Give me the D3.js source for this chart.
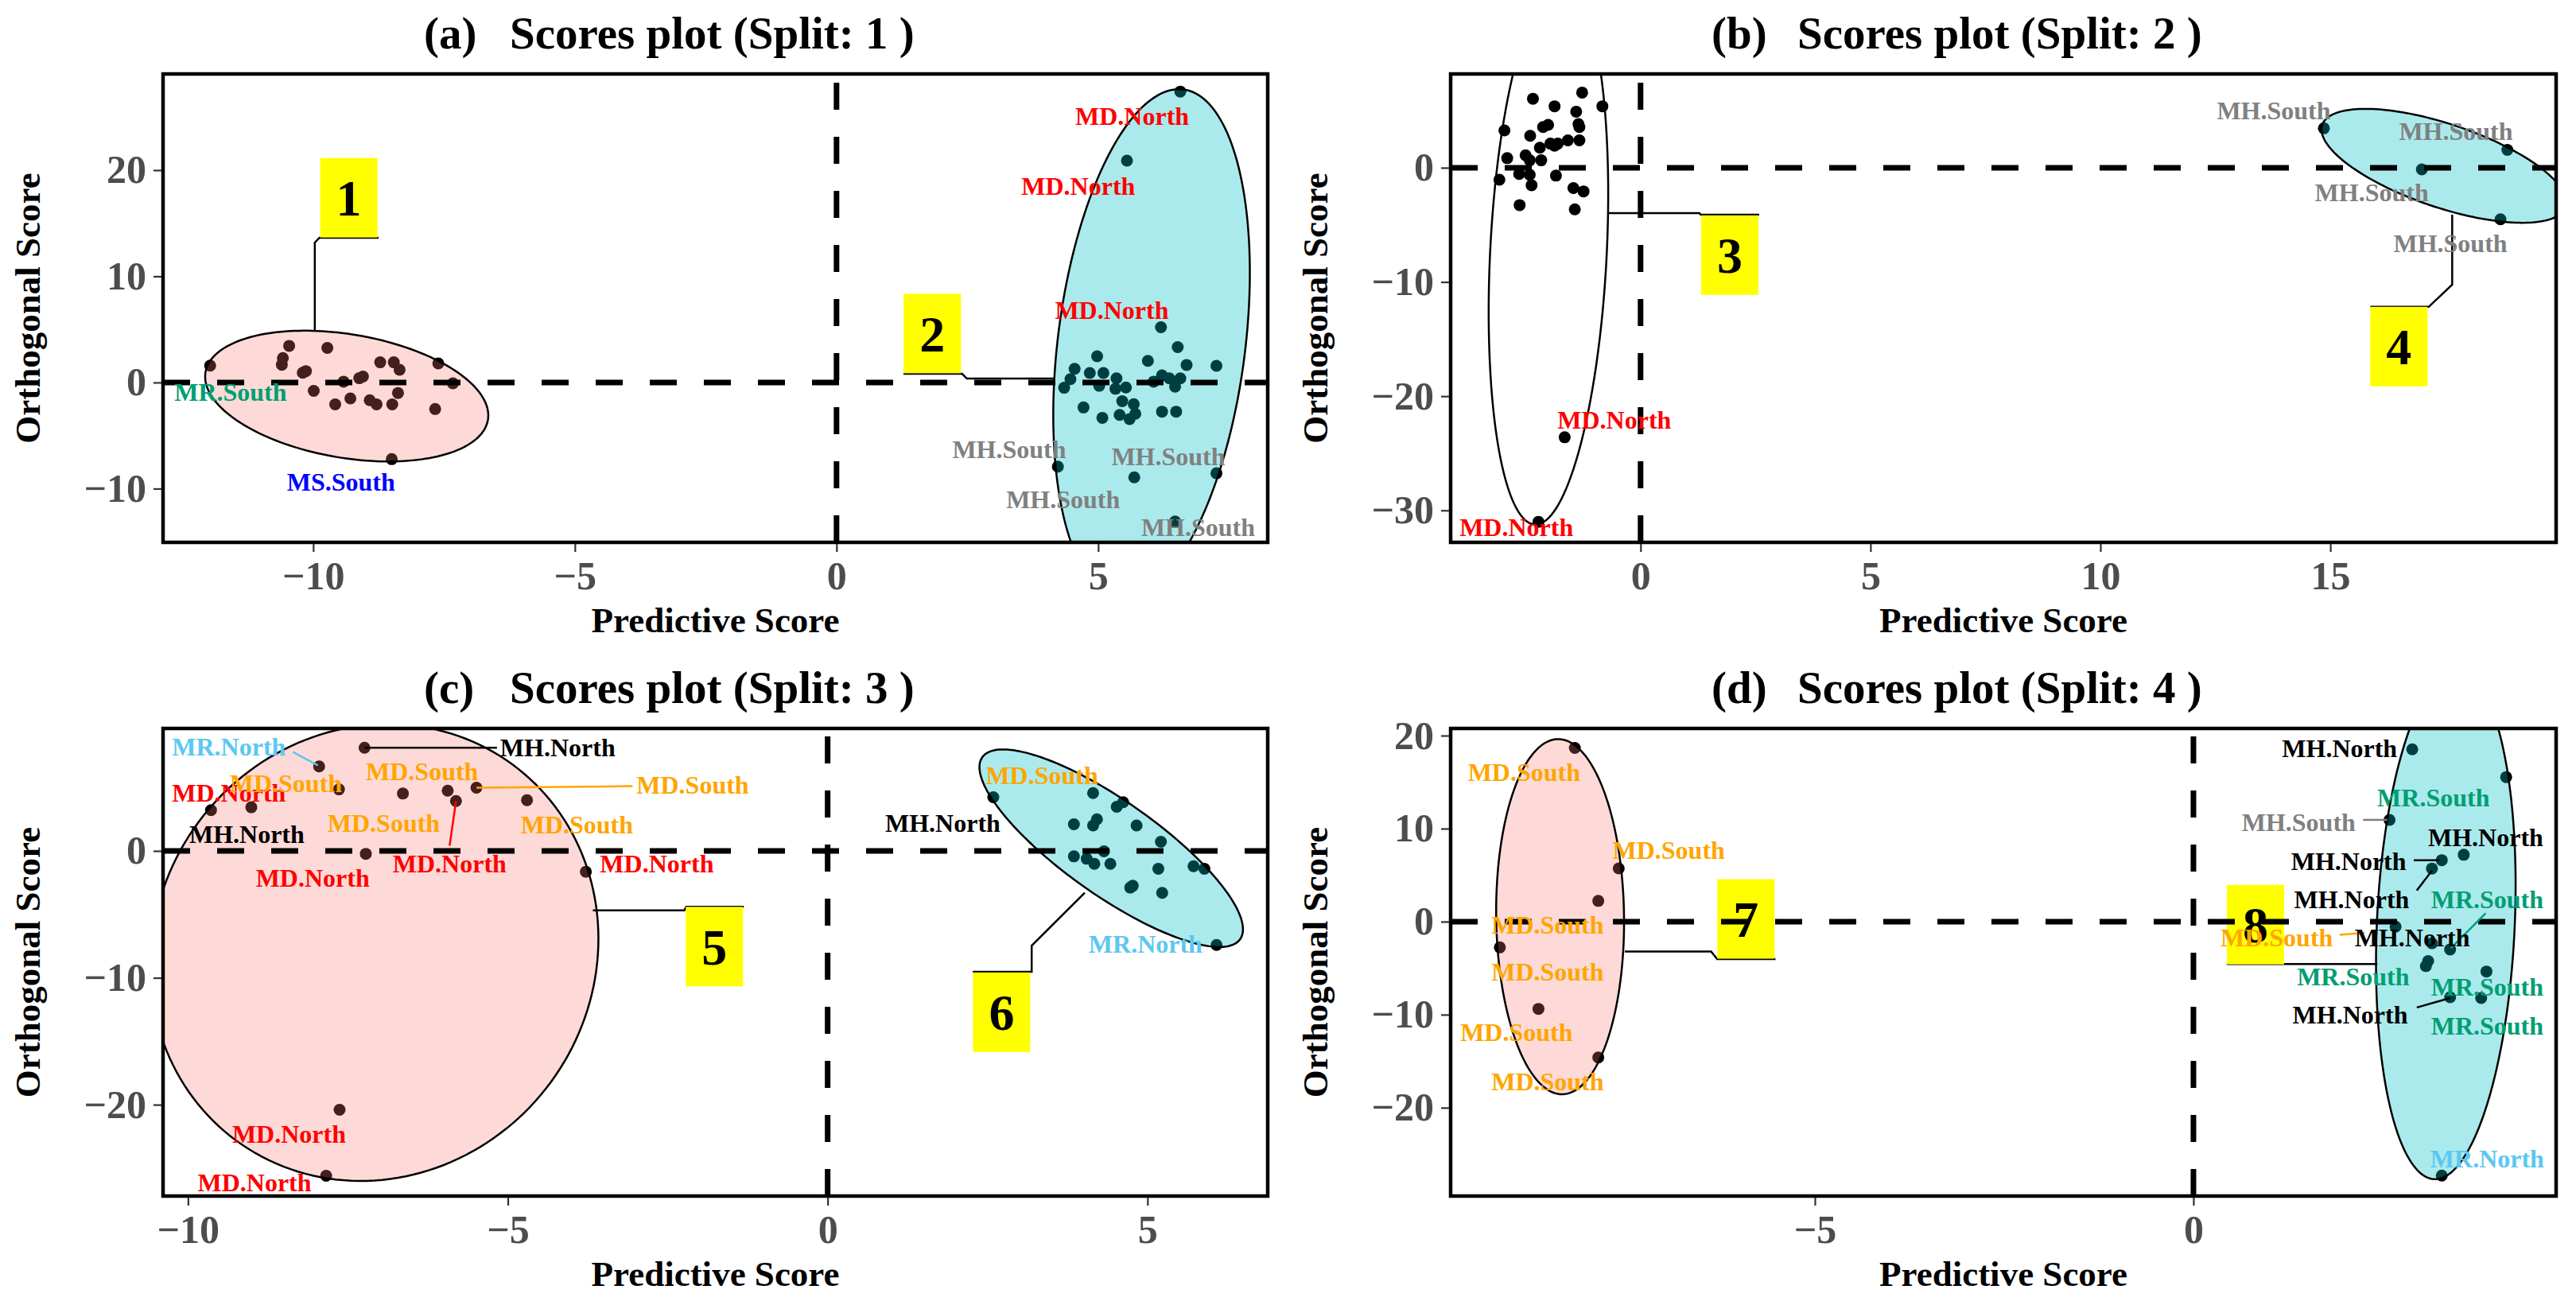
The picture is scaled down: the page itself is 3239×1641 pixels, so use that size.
<!DOCTYPE html>
<html><head><meta charset="utf-8">
<script src="https://cdn.jsdelivr.net/npm/d3@7"></script>
<style>
body{margin:0;background:#fff}
svg{display:block}
text{font-family:"Liberation Serif","Times New Roman",serif;font-weight:bold}
</style>
</head><body>
<svg id="chart" width="3239" height="1641"></svg>
<script>
// ================= DATA =================
// Split 1 (panel a)
const split1Group1 = [[-11.97,1.59],[-10.46,3.45],[-10.58,2.3],[-10.60,1.67],[-9.73,3.25],[-10.2,0.91],[-10.14,1.07],[-9.99,-0.79],[-9.42,0.08],[-9.58,-2.06],[-9.29,-1.5],[-9.12,0.4],[-9.05,0.56],[-8.72,1.9],[-8.46,1.9],[-8.35,1.19],[-8.38,-0.99],[-8.92,-1.67],[-8.79,-2.06],[-8.49,-2.06],[-7.61,1.79],[-7.33,-0.08],[-7.67,-2.5],[-8.5,-7.22]];
const split1Group2 = [[6.57,27.4],[5.55,20.9],[6.2,5.2],[4.98,2.47],[6.52,3.33],[5.95,2.04],[6.69,1.65],[7.26,1.57],[4.55,1.29],[4.84,0.9],[5.1,0.9],[4.47,0.31],[4.35,-0.5],[5.02,-0.31],[5.35,0.39],[5.53,-0.47],[5.33,-0.59],[6.22,0.67],[6.06,0.08],[6.57,0.39],[6.47,-0.39],[6.36,0.39],[4.72,-2.35],[5.08,-3.33],[5.46,-1.76],[5.68,-2.04],[5.41,-3.06],[5.6,-3.45],[5.71,-2.94],[6.22,-2.75],[6.49,-2.75],[4.23,-7.92],[5.69,-8.94],[7.26,-8.55],[6.47,-13.1]];
const split1Labels = [["MR.South",-11.58,-0.9],["MS.South",-9.47,-9.36],["MD.North",5.65,25.1],["MD.North",4.62,18.5],["MD.North",5.26,6.82],["MH.South",3.30,-6.29],["MH.South",6.34,-6.97],["MH.South",4.33,-11.0],["MH.South",6.91,-13.6]];
const split1Segments = [];
const split1Boxes = [["1",-9.32,17.4],["2",1.83,4.61]];
const split1Connectors = [[[-9.97,4.87],[-9.97,13.18],[-9.88,13.63],[-8.75,13.63]],[[1.28,0.82],[2.40,0.82],[2.49,0.37],[4.15,0.37]]];

// Split 2 (panel b)
const split2Group3 = [[-2.34,6.04],[-1.27,6.58],[-0.83,5.38],[-1.87,5.38],[-1.40,4.91],[-1.35,3.82],[-1.33,3.56],[-1.33,2.4],[-2.96,3.27],[-2.40,2.8],[-2.12,3.56],[-2.01,3.75],[-1.96,2.11],[-2.19,1.75],[-1.87,1.93],[-1.80,2.11],[-1.58,2.4],[-2.90,0.84],[-2.50,1.09],[-2.41,0.65],[-2.16,0.65],[-3.07,-1.05],[-2.64,-0.55],[-2.41,-0.62],[-2.37,-1.53],[-1.84,-0.69],[-2.63,-3.27],[-1.46,-1.78],[-1.24,-2.07],[-1.43,-3.64],[-1.65,-23.6],[-2.22,-31.0]];
const split2Group4 = [[14.86,3.45],[18.85,1.56],[16.99,-0.15],[18.70,-4.51]];
const split2Labels = [["MD.North",-0.57,-22.06],["MD.North",-2.70,-31.45],["MH.South",13.77,5.04],["MH.South",17.73,3.22],["MH.South",15.9,-2.16],["MH.South",17.61,-6.61]];
const split2Segments = [];
const split2Boxes = [["3",1.94,-7.65],["4",16.49,-15.66]];
const split2Connectors = [[[-0.69,-3.97],[1.28,-3.97],[1.31,-4.11],[2.58,-4.11]],[[17.65,-4.11],[17.65,-10.23],[17.14,-12.18],[15.87,-12.18]]];

// Split 3 (panel c)
const split3Group5 = [[-9.64,3.21],[-9.01,3.44],[-7.95,6.66],[-7.64,4.85],[-7.24,8.13],[-6.64,4.52],[-5.94,4.75],[-5.81,3.93],[-5.49,4.98],[-4.70,4.0],[-7.22,-0.23],[-3.78,-1.64],[-7.63,-20.4],[-7.84,-25.6]];
const split3Group6 = [[2.59,4.23],[4.15,4.56],[4.52,3.48],[4.62,3.84],[3.85,2.1],[4.15,2.0],[4.21,2.49],[4.83,2.0],[5.21,0.72],[4.32,-0.03],[3.85,-0.43],[4.05,-0.62],[4.17,-1.02],[4.42,-1.02],[5.17,-1.41],[5.72,-1.21],[5.89,-1.41],[4.73,-2.89],[4.77,-2.75],[5.23,-3.31],[6.08,-7.41]];
const split3Labels = [["MR.North",-9.36,8.19],["MD.North",-9.36,4.58],["MD.South",-8.47,5.33],["MH.North",-9.08,1.3],["MD.North",-8.05,-2.13],["MH.North",-4.22,8.13],["MD.South",-6.34,6.27],["MD.South",-6.94,2.21],["MD.North",-5.91,-1.0],["MD.South",-3.92,2.07],["MD.South",-2.11,5.2],["MD.North",-2.67,-1.0],["MD.North",-8.42,-22.3],["MD.North",-8.96,-26.1],["MD.South",3.35,5.99],["MH.North",1.80,2.21],["MR.North",4.97,-7.3]];
const split3Segments = [["MR.North",-8.36,7.79,-7.97,6.75],["MH.North",-7.24,8.13,-5.17,8.13],["MD.North",-5.91,0.41,-5.81,3.93],["MD.South",-5.49,4.98,-3.05,5.1]];
const split3Boxes = [["5",-1.77,-7.54],["6",2.72,-12.71]];
const split3Connectors = [[[-3.67,-4.68],[-2.24,-4.68],[-2.21,-4.41],[-1.31,-4.41]],[[4.02,-3.30],[3.19,-7.46],[3.19,-9.53],[2.27,-9.53]]];

// Split 4 (panel d)
const split4Group7 = [[-8.17,18.67],[-7.59,5.72],[-7.86,2.23],[-9.16,-2.77],[-8.65,-9.38],[-7.86,-14.6]];
const split4Group8 = [[2.89,18.53],[4.13,15.54],[2.59,10.94],[3.28,6.61],[3.15,5.71],[3.57,7.19],[2.67,-0.54],[3.15,-2.32],[3.39,-2.99],[3.10,-4.24],[3.07,-4.78],[3.87,-5.36],[3.39,-8.13],[3.80,-8.21],[3.28,-27.3]];
const split4Labels = [["MD.South",-8.84,16.11],["MD.South",-6.93,7.72],["MD.South",-8.53,-0.3],["MD.South",-8.53,-5.35],["MD.South",-8.94,-11.91],["MD.South",-8.53,-17.14],["MH.North",1.93,18.66],["MR.South",3.17,13.31],["MH.South",1.39,10.72],["MH.North",3.86,9.06],["MH.North",2.05,6.52],["MH.North",2.09,2.37],["MR.South",3.88,2.37],["MD.South",1.10,-1.74],["MH.North",2.89,-1.74],["MR.South",2.11,-5.89],["MR.South",3.88,-7.01],["MH.North",2.07,-9.99],["MR.South",3.88,-11.16],["MR.North",3.88,-25.44]];
const split4Segments = [["MH.South",2.24,10.94,2.56,10.94],["MH.North",2.91,6.61,3.25,6.61],["MH.North",2.95,3.35,3.15,5.49],["MR.South",3.86,0.9,3.40,-2.86],["MD.South",1.93,-1.42,2.26,-1.2],["MH.North",2.95,-9.23,3.39,-8.21]];
const split4Boxes = [["7",-5.91,0.29],["8",0.82,-0.32]];
const split4Connectors = [[[-7.51,-3.21],[-6.37,-3.21],[-6.29,-4.02],[-5.52,-4.02]],[[0.44,-4.55],[2.43,-4.55]]];

// ================= STYLE / LAYOUT =================
const labelColors = {"MD.North":"#FF0000","MD.South":"#FFA500","MH.North":"#000000","MH.South":"#808080","MR.North":"#5BC8F0","MR.South":"#009E73","MS.South":"#0000FF"};
const PINK = "#F8766D", CYAN = "#00BFC4";

const panels = [
  {tag:"(a)", split:1, left:205, right:1594, top:93, bottom:682, xDomain:[-12.87,8.24], yDomain:[-15.06,29.06],
   xTicks:[-10,-5,0,5], yTicks:[-10,0,10,20], groups:[split1Group1,split1Group2], fills:[PINK,CYAN],
   labels:split1Labels, segments:split1Segments, boxes:split1Boxes, connectors:split1Connectors},
  {tag:"(b)", split:2, left:1824, right:3214, top:93, bottom:682, xDomain:[-4.13,19.91], yDomain:[-32.8,8.21],
   xTicks:[0,5,10,15], yTicks:[-30,-20,-10,0], groups:[split2Group3,split2Group4], fills:[null,CYAN],
   labels:split2Labels, segments:split2Segments, boxes:split2Boxes, connectors:split2Connectors},
  {tag:"(c)", split:3, left:205, right:1594, top:916, bottom:1504, xDomain:[-10.39,6.88], yDomain:[-27.2,9.65],
   xTicks:[-10,-5,0,5], yTicks:[-20,-10,0], groups:[split3Group5,split3Group6], fills:[PINK,CYAN],
   labels:split3Labels, segments:split3Segments, boxes:split3Boxes, connectors:split3Connectors},
  {tag:"(d)", split:4, left:1824, right:3214, top:916, bottom:1504, xDomain:[-9.81,4.79], yDomain:[-29.5,20.77],
   xTicks:[-5,0], yTicks:[-20,-10,0,10,20], groups:[split4Group7,split4Group8], fills:[PINK,CYAN],
   labels:split4Labels, segments:split4Segments, boxes:split4Boxes, connectors:split4Connectors}
];

// ============ minimum volume enclosing ellipse (Khachiyan) ============
function inv3(m){
  const [a,b,c]=m[0],[d,e,f]=m[1],[g,h,k]=m[2];
  const A=e*k-f*h, B=-(d*k-f*g), C=d*h-e*g;
  const det=a*A+b*B+c*C;
  return [[A/det,-(b*k-c*h)/det,(b*f-c*e)/det],[B/det,(a*k-c*g)/det,-(a*f-c*d)/det],[C/det,-(a*h-b*g)/det,(a*e-b*d)/det]];
}
function mvee(P){
  const N=P.length, d=2;
  let u=new Array(N).fill(1/N);
  for(let it=0;it<20000;it++){
    const X=[[0,0,0],[0,0,0],[0,0,0]];
    P.forEach((p,i)=>{const q=[p[0],p[1],1];for(let r=0;r<3;r++)for(let s=0;s<3;s++)X[r][s]+=u[i]*q[r]*q[s];});
    const Xi=inv3(X);
    let maxM=-1,j=0;
    P.forEach((p,i)=>{const q=[p[0],p[1],1];let m=0;for(let r=0;r<3;r++)for(let s=0;s<3;s++)m+=q[r]*Xi[r][s]*q[s];if(m>maxM){maxM=m;j=i;}});
    const step=(maxM-d-1)/((d+1)*(maxM-1));
    const nu=u.map(v=>(1-step)*v); nu[j]+=step;
    let err=0; for(let i=0;i<N;i++) err+=(nu[i]-u[i])**2;
    u=nu;
    if(Math.sqrt(err)<1e-9) break;
  }
  let cx=0,cy=0; P.forEach((p,i)=>{cx+=u[i]*p[0];cy+=u[i]*p[1];});
  let sxx=0,sxy=0,syy=0;
  P.forEach((p,i)=>{sxx+=u[i]*p[0]*p[0];sxy+=u[i]*p[0]*p[1];syy+=u[i]*p[1]*p[1];});
  sxx-=cx*cx; sxy-=cx*cy; syy-=cy*cy;
  const mean=(sxx+syy)/2, dif=Math.sqrt(((sxx-syy)/2)**2+sxy*sxy);
  const l1=mean+dif, l2=Math.max(mean-dif,1e-9);
  const theta=0.5*Math.atan2(2*sxy,sxx-syy);
  return {cx,cy,a:Math.sqrt(d*l1),b:Math.sqrt(d*l2),theta};
}

// ================= DRAW =================
const svg = d3.select("#chart");
svg.append("rect").attr("width",3239).attr("height",1641).attr("fill","#fff");
const defs = svg.append("defs");
const EXPAND = 3;

panels.forEach((p,pi)=>{
  const x = d3.scaleLinear().domain(p.xDomain).range([p.left,p.right]);
  const y = d3.scaleLinear().domain(p.yDomain).range([p.bottom,p.top]);
  const g = svg.append("g");
  defs.append("clipPath").attr("id","clip"+pi).append("rect")
    .attr("x",p.left).attr("y",p.top).attr("width",p.right-p.left).attr("height",p.bottom-p.top);
  const plot = g.append("g").attr("clip-path",`url(#clip${pi})`);

  // points (black, later tinted by translucent ellipse fill)
  p.groups.forEach(grp=>{
    plot.append("g").selectAll("circle").data(grp).join("circle")
      .attr("cx",d=>x(d[0])).attr("cy",d=>y(d[1])).attr("r",7.5).attr("fill","#000");
  });

  // ellipses
  p.groups.forEach((grp,gi)=>{
    const e = mvee(grp.map(d=>[x(d[0]),y(d[1])]));
    const A=e.a+EXPAND, B=e.b+EXPAND;
    const pts = d3.range(0,361,2).map(t=>{
      const r=t*Math.PI/180, ct=Math.cos(e.theta), st=Math.sin(e.theta);
      const ux=A*Math.cos(r), uy=B*Math.sin(r);
      return [e.cx+ux*ct-uy*st, e.cy+ux*st+uy*ct];
    });
    plot.append("path").attr("d",d3.line()(pts)+"Z")
      .attr("fill",p.fills[gi]||"none").attr("fill-opacity",p.fills[gi]===CYAN?0.33:0.27)
      .attr("stroke","#000").attr("stroke-width",2.5);
  });

  // mark connectors and label boxes
  p.connectors.forEach(c=>{
    plot.append("path").attr("d",d3.line().x(d=>x(d[0])).y(d=>y(d[1]))(c))
      .attr("fill","none").attr("stroke","#000").attr("stroke-width",2.5);
  });
  p.boxes.forEach(b=>{
    const bx=x(b[1]), by=y(b[2]);
    plot.append("rect").attr("x",bx-36).attr("y",by-50).attr("width",72).attr("height",100).attr("fill","#FFFF00");
    plot.append("text").attr("x",bx).attr("y",by).attr("dy","0.35em").attr("text-anchor","middle")
      .attr("font-size",64).attr("fill","#000").text(b[0]);
  });

  // reference dashed lines
  plot.append("line").attr("x1",p.left).attr("x2",p.right).attr("y1",y(0)).attr("y2",y(0))
    .attr("stroke","#000").attr("stroke-width",7).attr("stroke-dasharray","34,34");
  plot.append("line").attr("x1",x(0)).attr("x2",x(0)).attr("y1",p.bottom).attr("y2",p.top)
    .attr("stroke","#000").attr("stroke-width",7).attr("stroke-dasharray","34,34");

  // repel segments and labels
  p.segments.forEach(s=>{
    plot.append("line").attr("x1",x(s[1])).attr("y1",y(s[2])).attr("x2",x(s[3])).attr("y2",y(s[4]))
      .attr("stroke",labelColors[s[0]]).attr("stroke-width",2.5);
  });
  plot.append("g").selectAll("text").data(p.labels).join("text")
    .attr("x",d=>x(d[1])).attr("y",d=>y(d[2])).attr("dy","0.35em").attr("text-anchor","middle")
    .attr("font-size",32).attr("fill",d=>labelColors[d[0]]).text(d=>d[0]);

  // border
  g.append("rect").attr("x",p.left).attr("y",p.top).attr("width",p.right-p.left).attr("height",p.bottom-p.top)
    .attr("fill","none").attr("stroke","#000").attr("stroke-width",4.5);

  // axes
  const fmt = d3.format("d");
  const xa = g.append("g").attr("transform",`translate(0,${p.bottom+2})`)
    .call(d3.axisBottom(x).tickValues(p.xTicks).tickFormat(fmt).tickSize(10).tickPadding(11));
  const ya = g.append("g").attr("transform",`translate(${p.left-2},0)`)
    .call(d3.axisLeft(y).tickValues(p.yTicks).tickFormat(fmt).tickSize(10).tickPadding(9));
  [xa,ya].forEach(ax=>{
    ax.select(".domain").remove();
    ax.selectAll(".tick line").attr("stroke","#333333").attr("stroke-width",2.2);
    ax.selectAll(".tick text").attr("font-size",50).attr("fill","#4D4D4D")
      .attr("font-family","'Liberation Serif',serif").attr("font-weight","bold");
  });

  // axis titles
  g.append("text").attr("x",(p.left+p.right)/2).attr("y",p.bottom+113).attr("text-anchor","middle")
    .attr("font-size",45).attr("fill","#000").text("Predictive Score");
  g.append("text").attr("transform",`translate(${p.left-155},${(p.top+p.bottom)/2}) rotate(-90)`)
    .attr("text-anchor","middle").attr("font-size",45).attr("fill","#000").text("Orthogonal Score");

  // title
  const ty = p.top - 32;
  g.append("text").attr("x",p.left+328).attr("y",ty).attr("font-size",57).attr("fill","#000").text(p.tag);
  g.append("text").attr("x",p.left+436).attr("y",ty).attr("font-size",57).attr("fill","#000")
    .text(`Scores plot (Split: ${p.split} )`);
});
</script>
</body></html>
